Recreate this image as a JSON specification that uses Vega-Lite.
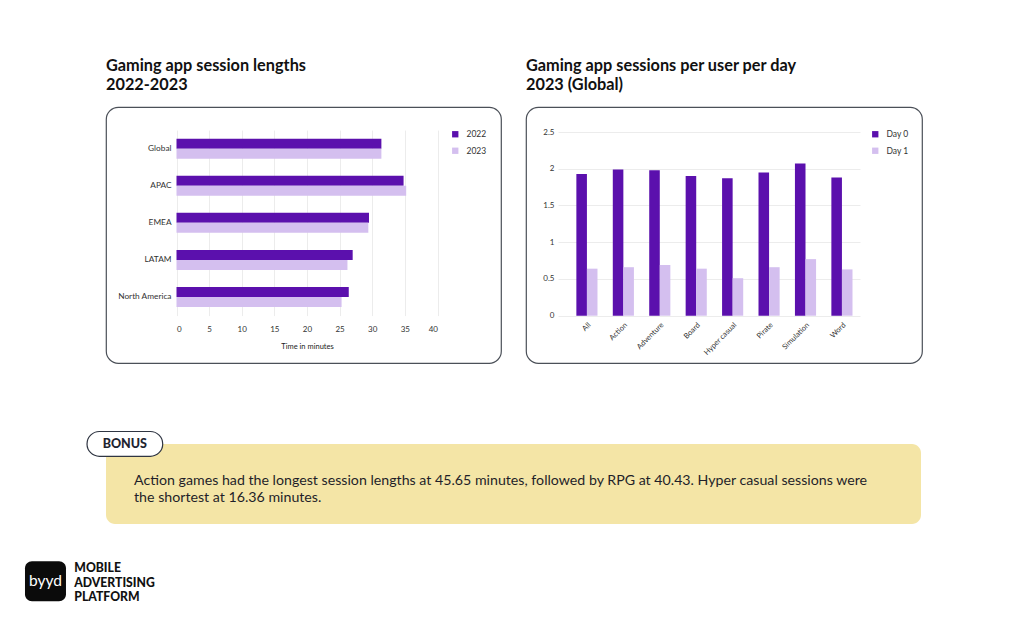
{
  "$schema": "https://vega.github.io/schema/vega-lite/v6.json",
  "background": "#ffffff",
  "padding": {"left": 24, "top": 57, "right": 10, "bottom": 10},
  "config": {
    "font": "Lato",
    "view": {"stroke": null},
    "axis": {"labelFont": "Lato", "titleFont": "Lato", "labelColor": "#333333", "titleColor": "#222222", "ticks": false, "tickSize": 0, "domain": false, "gridColor": "#ececec", "gridWidth": 1},
    "legend": {"labelFont": "Lato", "labelColor": "#333333"},
    "title": {"font": "Lato", "fontSize": 16.3, "fontWeight": "bold", "color": "#111111", "anchor": "start", "frame": "group", "lineHeight": 19, "offset": 14}
  },
  "bounds": "flush",
  "spacing": 337,
  "vconcat": [
    {
      "bounds": "flush",
      "spacing": 25,
      "resolve": {"scale": {"color": "independent"}, "legend": {"color": "independent"}},
      "hconcat": [
        {
          "width": 395,
          "height": 256,
          "view": {"stroke": "#4b5058", "strokeWidth": 1.2, "cornerRadius": 12, "fill": "#ffffff"},
          "title": {"text": ["Gaming app session lengths", "2022-2023"]},
          "data": {"values": [
            {"region": "Global", "year": "2022", "minutes": 31.4},
            {"region": "Global", "year": "2023", "minutes": 31.4},
            {"region": "APAC", "year": "2022", "minutes": 34.8},
            {"region": "APAC", "year": "2023", "minutes": 35.2},
            {"region": "EMEA", "year": "2022", "minutes": 29.5},
            {"region": "EMEA", "year": "2023", "minutes": 29.4},
            {"region": "LATAM", "year": "2022", "minutes": 27.0},
            {"region": "LATAM", "year": "2023", "minutes": 26.2},
            {"region": "North America", "year": "2022", "minutes": 26.4},
            {"region": "North America", "year": "2023", "minutes": 25.3}
          ]},
          "mark": {"type": "bar"},
          "encoding": {
            "y": {"field": "region", "type": "nominal", "sort": ["Global", "APAC", "EMEA", "LATAM", "North America"],
                  "scale": {"range": [23.1, 208.6], "paddingInner": 0.46, "paddingOuter": 0.23},
                  "axis": {"orient": "left", "offset": -70, "labelPadding": 5, "labelFontSize": 8.3, "title": null, "grid": false}},
            "yOffset": {"field": "year", "type": "nominal", "sort": ["2022", "2023"]},
            "x": {"field": "minutes", "type": "quantitative",
                  "scale": {"domain": [0, 40], "range": [70.5, 331.5], "nice": false, "zero": true},
                  "axis": {"orient": "top", "offset": -213, "values": [0, 5, 10, 15, 20, 25, 30, 35, 40], "grid": true, "labelFontSize": 8, "labelPadding": -13, "labelBaseline": "bottom", "title": "Time in minutes", "titleFontSize": 7.5, "titleFontWeight": "normal", "titleY": 30, "titleBaseline": "bottom"}},
            "color": {"field": "year", "type": "nominal",
                      "scale": {"domain": ["2022", "2023"], "range": ["#5b10ad", "#d4bfef"]},
                      "legend": {"orient": "none", "legendX": 345, "legendY": 23, "title": null, "symbolType": "square", "symbolSize": 40, "symbolStrokeWidth": 0, "labelFontSize": 8.5, "labelOffset": 7, "rowPadding": 7.5}}
          }
        },
        {
          "width": 396,
          "height": 256,
          "view": {"stroke": "#4b5058", "strokeWidth": 1.2, "cornerRadius": 12, "fill": "#ffffff"},
          "title": {"text": ["Gaming app sessions per user per day", "2023 (Global)"]},
          "data": {"values": [
            {"genre": "All", "day": "Day 0", "sessions": 1.93},
            {"genre": "All", "day": "Day 1", "sessions": 0.64},
            {"genre": "Action", "day": "Day 0", "sessions": 1.99},
            {"genre": "Action", "day": "Day 1", "sessions": 0.66},
            {"genre": "Adventure", "day": "Day 0", "sessions": 1.98},
            {"genre": "Adventure", "day": "Day 1", "sessions": 0.69},
            {"genre": "Board", "day": "Day 0", "sessions": 1.90},
            {"genre": "Board", "day": "Day 1", "sessions": 0.64},
            {"genre": "Hyper casual", "day": "Day 0", "sessions": 1.87},
            {"genre": "Hyper casual", "day": "Day 1", "sessions": 0.51},
            {"genre": "Pirate", "day": "Day 0", "sessions": 1.95},
            {"genre": "Pirate", "day": "Day 1", "sessions": 0.66},
            {"genre": "Simulation", "day": "Day 0", "sessions": 2.07},
            {"genre": "Simulation", "day": "Day 1", "sessions": 0.77},
            {"genre": "Word", "day": "Day 0", "sessions": 1.88},
            {"genre": "Word", "day": "Day 1", "sessions": 0.63}
          ]},
          "mark": {"type": "bar"},
          "encoding": {
            "x": {"field": "genre", "type": "nominal", "sort": ["All", "Action", "Adventure", "Board", "Hyper casual", "Pirate", "Simulation", "Word"],
                  "scale": {"range": [32, 334], "paddingInner": 0.42, "paddingOuter": 0.355, "align": 0.71},
                  "axis": {"orient": "bottom", "offset": -47.3, "labelAngle": -45, "labelFontSize": 7.5, "labelPadding": 5, "title": null, "grid": false}},
            "xOffset": {"field": "day", "type": "nominal", "sort": ["Day 0", "Day 1"]},
            "y": {"field": "sessions", "type": "quantitative",
                  "scale": {"domain": [0, 2.5], "range": [208.7, 25], "nice": false},
                  "axis": {"orient": "left", "offset": -32, "values": [0, 0.5, 1, 1.5, 2, 2.5], "format": "~g", "grid": true, "labelFontSize": 8, "labelPadding": 4, "title": null}},
            "color": {"field": "day", "type": "nominal",
                      "scale": {"domain": ["Day 0", "Day 1"], "range": ["#5b10ad", "#d4bfef"]},
                      "legend": {"orient": "none", "legendX": 345, "legendY": 23, "title": null, "symbolType": "square", "symbolSize": 40, "symbolStrokeWidth": 0, "labelFontSize": 8.5, "labelOffset": 7, "rowPadding": 7.5}}
          }
        }
      ]
    },
    {
      "width": 815,
      "height": 80,
      "view": {"fill": "#f4e5a6", "stroke": null, "cornerRadius": 9},
      "layer": [
        {
          "data": {"values": [{"text": "Action games had the longest session lengths at 45.65 minutes, followed by RPG at 40.43. Hyper casual sessions were\nthe shortest at 16.36 minutes."}]},
          "mark": {"type": "text", "align": "left", "baseline": "alphabetic", "fontSize": 14.2, "lineHeight": 16.8, "lineBreak": "\n", "color": "#1f1f29"},
          "encoding": {
            "x": {"datum": 3.44, "type": "quantitative", "scale": {"domain": [0, 100], "nice": false, "zero": false}, "axis": null},
            "y": {"datum": 51.25, "type": "quantitative", "scale": {"domain": [0, 100], "reverse": true, "nice": false, "zero": false}, "axis": null},
            "text": {"field": "text"}
          }
        },
        {
          "data": {"values": [{"label": "BONUS"}]},
          "mark": {"type": "rect", "cornerRadius": 12.5, "fill": "#ffffff", "stroke": "#2f3542", "strokeWidth": 1.2},
          "encoding": {
            "x": {"datum": -2.33, "type": "quantitative", "scale": {"domain": [0, 100], "nice": false, "zero": false}, "axis": null},
            "x2": {"datum": 6.96},
            "y": {"datum": -15.6, "type": "quantitative", "scale": {"domain": [0, 100], "reverse": true, "nice": false, "zero": false}, "axis": null},
            "y2": {"datum": 15.4}
          }
        },
        {
          "data": {"values": [{"label": "BONUS"}]},
          "mark": {"type": "text", "align": "center", "baseline": "middle", "fontSize": 12.5, "fontWeight": 900, "color": "#1e2430"},
          "encoding": {
            "x": {"datum": 2.31, "type": "quantitative", "scale": {"domain": [0, 100], "nice": false, "zero": false}, "axis": null},
            "y": {"datum": 0.44, "type": "quantitative", "scale": {"domain": [0, 100], "reverse": true, "nice": false, "zero": false}, "axis": null},
            "text": {"field": "label"}
          }
        },
        {
          "data": {"values": [{"brand": "byyd", "tagline": "MOBILE\nADVERTISING\nPLATFORM"}]},
          "mark": {"type": "rect", "cornerRadius": 7, "fill": "#0b0b0b"},
          "encoding": {
            "x": {"datum": -9.94, "type": "quantitative", "scale": {"domain": [0, 100], "nice": false, "zero": false}, "axis": null},
            "x2": {"datum": -4.91},
            "y": {"datum": 146.6, "type": "quantitative", "scale": {"domain": [0, 100], "reverse": true, "nice": false, "zero": false}, "axis": null},
            "y2": {"datum": 196.6}
          }
        },
        {
          "data": {"values": [{"brand": "byyd", "tagline": "MOBILE\nADVERTISING\nPLATFORM"}]},
          "mark": {"type": "text", "align": "center", "baseline": "middle", "fontSize": 15.5, "color": "#ffffff"},
          "encoding": {
            "x": {"datum": -7.42, "type": "quantitative", "scale": {"domain": [0, 100], "nice": false, "zero": false}, "axis": null},
            "y": {"datum": 171.6, "type": "quantitative", "scale": {"domain": [0, 100], "reverse": true, "nice": false, "zero": false}, "axis": null},
            "text": {"field": "brand"}
          }
        },
        {
          "data": {"values": [{"brand": "byyd", "tagline": "MOBILE\nADVERTISING\nPLATFORM"}]},
          "mark": {"type": "text", "align": "left", "baseline": "alphabetic", "fontSize": 12.2, "fontWeight": 900, "lineHeight": 14.2, "lineBreak": "\n", "color": "#111111"},
          "encoding": {
            "x": {"datum": -3.89, "type": "quantitative", "scale": {"domain": [0, 100], "nice": false, "zero": false}, "axis": null},
            "y": {"datum": 160.4, "type": "quantitative", "scale": {"domain": [0, 100], "reverse": true, "nice": false, "zero": false}, "axis": null},
            "text": {"field": "tagline"}
          }
        }
      ]
    }
  ]
}
